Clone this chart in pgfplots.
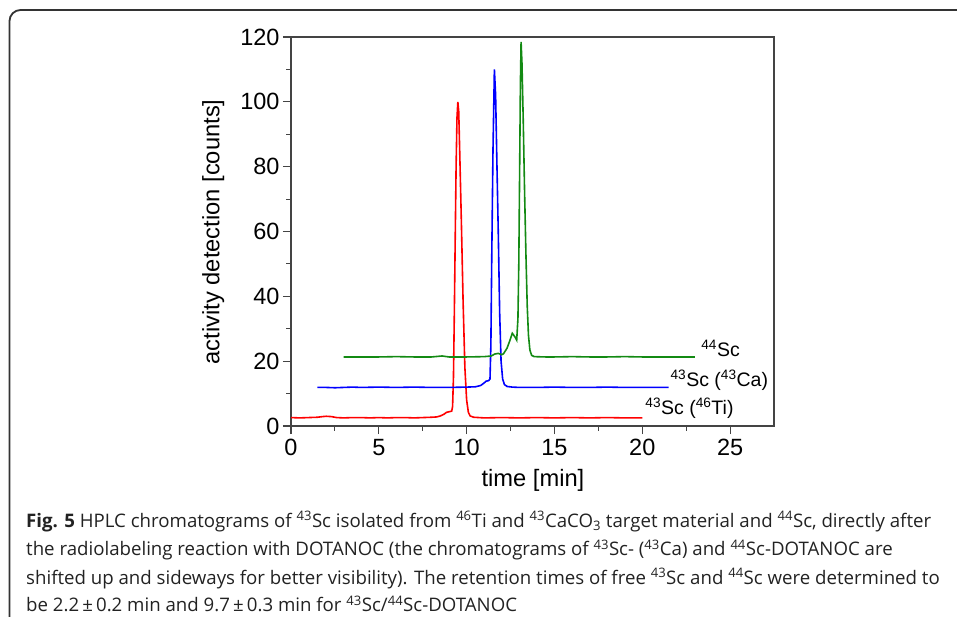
\documentclass[border=0pt]{standalone}
\usepackage{pgfplots}
\pgfplotsset{compat=1.18}
\usepackage{fontspec}
\setmainfont{Liberation Sans}
\newfontfamily\capfont{Open Sans}
\definecolor{boxgray}{HTML}{333333}
\definecolor{axgray}{HTML}{444444}
\definecolor{capgray}{HTML}{222222}
\definecolor{sgreen}{HTML}{138A13}
\newcommand{\supr}[1]{\textsuperscript{#1}}
\begin{document}
\begin{tikzpicture}
\useasboundingbox (-291pt,-190pt) rectangle (666pt,426pt);
\draw[boxgray, line width=1.8pt, rounded corners=11pt] (-281.5pt,-240pt) rectangle (720pt,416pt);
\begin{axis}[
  at={(0pt,0pt)}, anchor=south west,
  scale only axis, width=483pt, height=389pt,
  xmin=0, xmax=27.5, ymin=0, ymax=120,
  xtick={0,5,...,25}, ytick={0,20,...,120},
  minor x tick num=1, minor y tick num=1,
  xtick pos=bottom, ytick pos=left,
  tick align=outside,
  major tick length=8pt, minor tick length=4.5pt,
  axis line style={line width=1.3pt, axgray},
  every tick/.style={line width=1.1pt, axgray},
  /pgf/number format/assume math mode=true,
  tick label style={font=\fontsize{23.5}{23.5}\selectfont},
  xticklabel style={yshift=-2pt},
  xlabel={time [min]}, ylabel={activity detection [counts]},
  every axis x label/.style={at={(axis description cs:0.501,-0.141)}, anchor=center, font=\fontsize{23.7}{23.7}\selectfont},
  every axis y label/.style={at={(axis description cs:-0.161,0.499)}, anchor=center, rotate=90, font=\fontsize{23.7}{23.7}\selectfont},
  clip=false,
]
% red: 43Sc (46Ti)
\addplot[red, line width=1.6pt] coordinates {
(0,2.6) (0.5,2.5) (1,2.6) (1.5,2.7) (1.8,2.9) (2.0,3.0) (2.3,2.9) (2.6,2.6) (3,2.5) (3.5,2.6) (4,2.6) (4.5,2.5) (5,2.6) (5.5,2.5) (6,2.6) (6.5,2.6) (7,2.5) (7.5,2.6) (8,2.7) (8.3,2.8) (8.5,3.1) (8.7,3.6) (8.85,4.2) (9.0,4.4) (9.15,4.6)
(9.2,6) (9.25,15) (9.3,35) (9.35,58) (9.4,80) (9.45,95) (9.5,100) (9.55,97) (9.6,86) (9.7,63) (9.8,38) (9.9,18) (10.0,8) (10.1,4.2) (10.2,3.1) (10.4,2.7) (10.7,2.6) (11,2.5) (12,2.6) (13,2.5) (14,2.6) (15,2.5) (16,2.6) (17,2.5) (18,2.6) (19,2.5) (20,2.5)
};
% blue: 43Sc (43Ca)
\addplot[blue, line width=1.6pt] coordinates {
(1.5,11.9) (2,11.9) (2.5,11.8) (3,11.9) (3.5,12.0) (4,11.9) (5,12.0) (6,11.9) (7,12.0) (8,11.9) (9,11.9) (10,12.0) (10.5,12.1) (10.8,12.5) (11.0,13.3) (11.1,13.8) (11.25,14.0) (11.33,14.5)
(11.38,25) (11.43,52) (11.5,85) (11.58,110) (11.65,102) (11.72,82) (11.8,60) (11.88,35) (11.96,20) (12.05,14.5) (12.15,12.8) (12.3,12.2) (12.6,12.0) (13,11.9) (14,11.9) (15,12.0) (16,11.9) (17,11.9) (18,12.0) (19,11.9) (20,11.9) (21,11.9) (21.5,11.9)
};
% green: 44Sc
\addplot[sgreen, line width=1.6pt] coordinates {
(3,21.3) (4,21.3) (5,21.3) (6,21.4) (7,21.3) (8,21.3) (8.6,21.6) (9,21.3) (10,21.3) (11,21.4) (11.4,21.6) (11.6,22.2) (11.8,22.4) (12.0,22.0) (12.1,22.3) (12.3,24) (12.45,26.2) (12.6,28.6) (12.75,27.5) (12.85,26.5)
(12.92,33) (12.97,50) (13.02,80) (13.06,105) (13.1,118.5) (13.15,112) (13.22,95) (13.3,72) (13.38,52) (13.45,37) (13.52,28) (13.6,23.5) (13.7,21.8) (13.85,21.4) (14.5,21.3) (15,21.3) (16,21.4) (17,21.3) (18,21.3) (19,21.4) (20,21.3) (21,21.3) (22,21.3) (23,21.3)
};
\node[anchor=base west, font=\fontsize{19.5}{19.5}\selectfont, inner sep=0pt] at (axis cs:23.35,21.4) {\supr{44}Sc};
\node[anchor=base west, font=\fontsize{19.5}{19.5}\selectfont, inner sep=0pt] at (axis cs:21.6,12.1) {\supr{43}Sc (\supr{43}Ca)};
\node[anchor=base west, font=\fontsize{19.5}{19.5}\selectfont, inner sep=0pt] at (axis cs:20.17,3.4) {\supr{43}Sc (\supr{46}Ti)};
\end{axis}
\begin{scope}[every node/.style={anchor=base west, inner sep=0pt, text=capgray, font=\capfont\fontsize{18.65}{18.65}\selectfont}]
\node at (-265pt,-101pt) {\textbf{Fig. 5} HPLC chromatograms of \supr{43}Sc isolated from \supr{46}Ti and \supr{43}CaCO\textsubscript{3} target material and \supr{44}Sc, directly after};
\node at (-265pt,-129.5pt) {the radiolabeling reaction with DOTANOC (the chromatograms of \supr{43}Sc- (\supr{43}Ca) and \supr{44}Sc-DOTANOC are};
\node at (-265pt,-158pt) {shifted up and sideways for better visibility). The retention times of free \supr{43}Sc and \supr{44}Sc were determined to};
\node at (-265pt,-185.5pt) {be 2.2\,±\,0.2 min and 9.7\,±\,0.3 min for \supr{43}Sc/\supr{44}Sc-DOTANOC};
\end{scope}
\end{tikzpicture}
\end{document}
